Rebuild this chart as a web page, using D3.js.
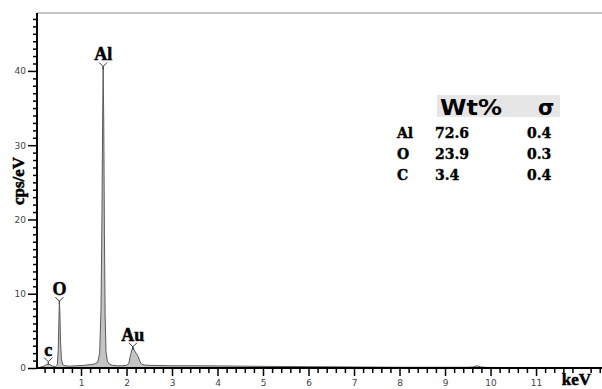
<!DOCTYPE html>
<html>
<head>
<meta charset="utf-8">
<script src="https://cdn.jsdelivr.net/npm/d3@7"></script>
<style>
  html, body { margin: 0; padding: 0; background: #fff; }
  svg { display: block; }
  .serif { font-family: "Liberation Serif", "Times New Roman", Times, serif; font-weight: bold; stroke: #000; stroke-width: 0.5; }
</style>
</head>
<body>
<script>
// spectrum (keV, cps/eV)
const energy = [0.03, 0.1, 0.18, 0.24, 0.28, 0.32, 0.38, 0.44, 0.48, 0.5, 0.515, 0.525, 0.535, 0.55, 0.57, 0.6, 0.65,
  0.75, 0.9, 1.05, 1.2, 1.3, 1.37, 1.41, 1.44, 1.46, 1.475, 1.487, 1.5, 1.515, 1.53, 1.55, 1.58, 1.63, 1.7, 1.8,
  1.9, 2.0, 2.05, 2.09, 2.14, 2.18, 2.22, 2.26, 2.3, 2.34, 2.4, 2.5, 2.6, 3.0, 3.5, 4.0, 4.5,
  5.0, 5.5, 6.0, 6.5, 7.0, 7.5, 8.0, 8.5, 9.0, 9.5, 9.62, 9.7, 9.78, 9.9, 10.5, 11.0, 11.5, 12.0, 12.45];
const counts = [0.0, 0.1, 0.25, 0.45, 0.55, 0.45, 0.25, 0.2, 0.5, 2.5, 6.5, 9.0, 7.6, 3.6, 1.2, 0.45, 0.3,
  0.25, 0.3, 0.35, 0.45, 0.55, 0.8, 2.0, 8.0, 20.0, 33.0, 40.6, 33.0, 18.0, 7.0, 2.2, 0.9, 0.5, 0.35, 0.3,
  0.3, 0.35, 0.6, 1.8, 2.85, 2.3, 1.9, 1.5, 0.8, 0.5, 0.4, 0.35, 0.35, 0.3, 0.3, 0.28, 0.25,
  0.22, 0.2, 0.18, 0.16, 0.14, 0.12, 0.1, 0.1, 0.1, 0.1, 0.15, 0.3, 0.15, 0.08, 0.06, 0.05, 0.04, 0.04, 0.03];

const peakNames = ['c', 'O', 'Al', 'Au'];
const peakEnergy = [0.28, 0.525, 1.487, 2.14];
const peakHeight = [0.85, 9.0, 40.6, 2.85];

const xMajor = [1, 2, 3, 4, 5, 6, 7, 8, 9, 10, 11];
const yMajor = [0, 10, 20, 30, 40];

const tableElements = ['Al', 'O', 'C'];
const tableWt = ['72.6', '23.9', '3.4'];
const tableSigma = ['0.4', '0.3', '0.4'];

const W = 602, H = 389;
const x = d3.scaleLinear().domain([0, 12.45]).range([35.5, 602]);
const y = d3.scaleLinear().domain([0, 47.8]).range([368, 13]);

const svg = d3.select('body').append('svg')
  .attr('width', W)
  .attr('height', H);

// top frame line
svg.append('line')
  .attr('x1', 37).attr('x2', W)
  .attr('y1', y(47.8)).attr('y2', y(47.8))
  .attr('stroke', '#8a8a8a').attr('stroke-width', 1);

// spectrum
const area = d3.area()
  .x((d, i) => x(energy[i]))
  .y0(y(0))
  .y1(d => y(d));
const line = d3.line()
  .x((d, i) => x(energy[i]))
  .y(d => y(d));

svg.append('path')
  .datum(counts)
  .attr('d', area)
  .attr('fill', '#c4c4c4');
svg.append('path')
  .datum(counts)
  .attr('d', line)
  .attr('fill', 'none')
  .attr('stroke', '#5a5a5a')
  .attr('stroke-width', 1);

// minor ticks
const xMinor = d3.range(0.2, 12.45, 0.2).filter(v => Math.abs(v - Math.round(v)) > 0.01);
const yMinor = d3.range(1, 48, 1).filter(v => v % 10 !== 0);

svg.append('g')
  .attr('transform', 'translate(0,' + y(0) + ')')
  .call(d3.axisBottom(x).tickValues(xMinor).tickSize(5).tickFormat(''))
  .call(g => g.select('.domain').remove())
  .selectAll('line').attr('stroke', '#000').attr('stroke-width', 1.5);

svg.append('g')
  .attr('transform', 'translate(37,0)')
  .call(d3.axisLeft(y).tickValues(yMinor).tickSize(4).tickFormat(''))
  .call(g => g.select('.domain').remove())
  .selectAll('line').attr('stroke', '#000').attr('stroke-width', 1.5);

// major ticks + labels
const xAxis = svg.append('g')
  .attr('transform', 'translate(0,' + y(0) + ')')
  .call(d3.axisBottom(x).tickValues(xMajor).tickSize(8).tickPadding(4).tickFormat(d3.format('d')))
  .call(g => g.select('.domain').remove());
xAxis.selectAll('line').attr('stroke', '#000').attr('stroke-width', 1.5);
xAxis.selectAll('text')
  .attr('font-family', 'DejaVu Sans').attr('font-size', 9).attr('fill', '#444');

const yAxis = svg.append('g')
  .attr('transform', 'translate(37,0)')
  .call(d3.axisLeft(y).tickValues(yMajor).tickSize(9).tickPadding(2).tickFormat(d3.format('d')))
  .call(g => g.select('.domain').remove());
yAxis.selectAll('line').attr('stroke', '#000').attr('stroke-width', 1.5);
yAxis.selectAll('text')
  .attr('font-family', 'DejaVu Sans').attr('font-size', 9).attr('fill', '#444');

// axis lines
svg.append('line')
  .attr('x1', 37).attr('x2', W)
  .attr('y1', y(0)).attr('y2', y(0))
  .attr('stroke', '#000').attr('stroke-width', 2);
svg.append('line')
  .attr('x1', 37).attr('x2', 37)
  .attr('y1', y(47.8)).attr('y2', y(0) + 1)
  .attr('stroke', '#000').attr('stroke-width', 2);

// axis titles
svg.append('text')
  .attr('class', 'serif')
  .attr('x', 591).attr('y', 385)
  .attr('text-anchor', 'end')
  .attr('font-size', 17)
  .text('keV');
svg.append('text')
  .attr('class', 'serif')
  .attr('transform', 'translate(24,181) rotate(-90)')
  .attr('text-anchor', 'middle')
  .attr('font-size', 17)
  .text('cps/eV');

// peak markers and labels
const peaks = svg.append('g').selectAll('g')
  .data(peakNames)
  .join('g')
  .attr('transform', (d, i) => 'translate(' + x(peakEnergy[i]) + ',' + y(peakHeight[i]) + ')');

peaks.append('path')
  .attr('d', 'M-4,-4L0,0L4,-4M0,0L0,3')
  .attr('fill', 'none')
  .attr('stroke', '#333')
  .attr('stroke-width', 1);

peaks.append('text')
  .attr('class', 'serif')
  .attr('y', -6)
  .attr('text-anchor', 'middle')
  .attr('font-size', 18)
  .text(d => d);

// composition table
const table = svg.append('g');
table.append('rect')
  .attr('x', 437).attr('y', 95)
  .attr('width', 123).attr('height', 22)
  .attr('fill', '#e6e6e6');
table.append('text')
  .attr('x', 440).attr('y', 115)
  .attr('font-family', 'DejaVu Sans').attr('font-weight', 'bold').attr('font-size', 21)
  .attr('textLength', 62).attr('lengthAdjust', 'spacingAndGlyphs')
  .text('Wt%');
table.append('text')
  .attr('x', 538).attr('y', 115)
  .attr('font-family', 'DejaVu Sans').attr('font-weight', 'bold').attr('font-size', 21)
  .text('σ');

const rows = table.selectAll('g.row')
  .data(tableElements)
  .join('g')
  .attr('class', 'row')
  .attr('transform', (d, i) => 'translate(0,' + (138 + i * 20.8) + ')')
  .attr('font-family', 'DejaVu Serif').attr('font-weight', 'bold').attr('font-size', 14)
  .attr('stroke', '#000').attr('stroke-width', 0.4);
rows.append('text').attr('x', 397).text(d => d);
rows.append('text').attr('x', 435).text((d, i) => tableWt[i]);
rows.append('text').attr('x', 527).text((d, i) => tableSigma[i]);
</script>
</body>
</html>
